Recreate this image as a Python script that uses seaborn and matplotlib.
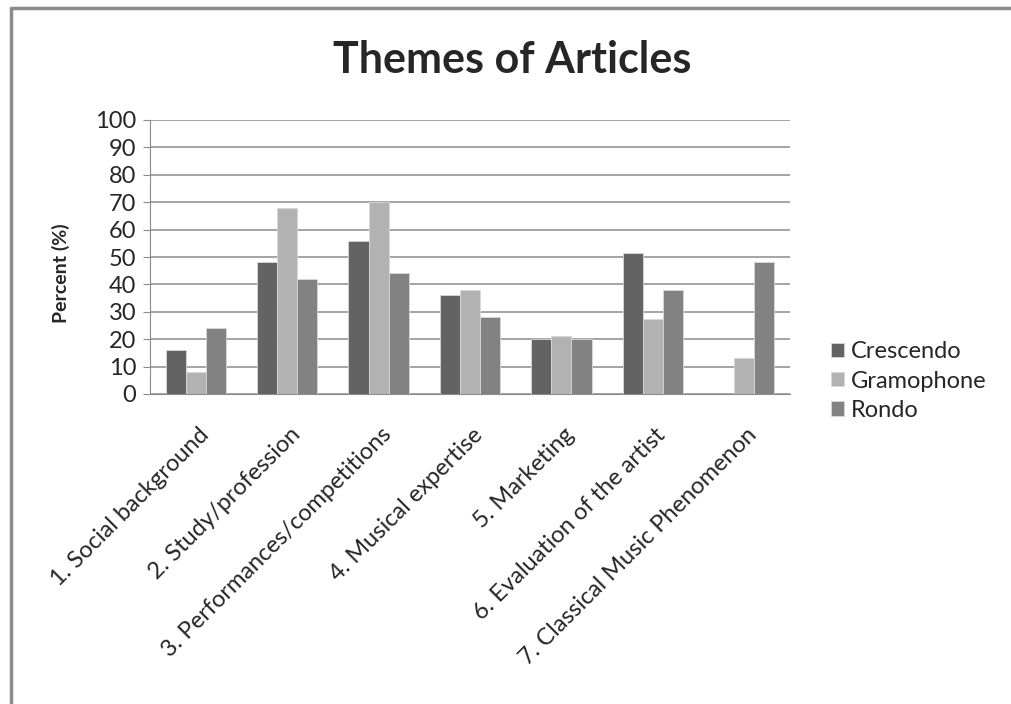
import pandas as pd
import matplotlib.pyplot as plt
import matplotlib.lines as mlines
import matplotlib.transforms as mtransforms
import seaborn as sns

# --- data ---
themes = [
    "1. Social background",
    "2. Study/profession",
    "3. Performances/competitions",
    "4. Musical expertise",
    "5. Marketing",
    "6. Evaluation of the artist",
    "7. Classical Music Phenomenon",
]
magazines = ["Crescendo", "Gramophone", "Rondo"]
crescendo = [16, 48, 56, 36, 20, 51.5, 0]
gramophone = [8, 68, 70, 38, 21, 27.5, 13]
rondo = [24, 42, 44, 28, 20, 38, 48]

df = pd.DataFrame({
    "theme": themes * 3,
    "magazine": [m for m in magazines for _ in themes],
    "percent": crescendo + gramophone + rondo,
})

sns.set_style("white")
plt.rcParams["font.family"] = ["Lato", "DejaVu Sans"]

fig = plt.figure(figsize=(10.11, 7.04), dpi=100)
ax = fig.add_axes([150 / 1011, 1 - 394 / 704, 640 / 1011, 274 / 704])

palette = {"Crescendo": "#636363", "Gramophone": "#b2b2b2", "Rondo": "#828282"}
sns.barplot(data=df, x="theme", y="percent", hue="magazine", order=themes,
            hue_order=magazines, palette=palette, width=0.66, ax=ax,
            saturation=1, edgecolor="#d8d8d8", linewidth=0.6, zorder=3)

ax.set_ylim(0, 100)
ax.set_yticks(range(0, 101, 10))
ax.set_xlim(-0.5, 6.5)
ax.yaxis.grid(True, color="#8c8c8c", linewidth=1.1, zorder=0)
ax.set_axisbelow(True)
for s in ["top", "right"]:
    ax.spines[s].set_visible(False)
ax.spines["left"].set_color("#8c8c8c")
ax.spines["bottom"].set_color("#8c8c8c")
ax.tick_params(axis="y", length=5, color="#8c8c8c", labelsize=17, pad=5, left=True)
ax.tick_params(axis="x", length=0, labelsize=17, pad=0)

# Excel-like placement of the slanted category labels
shift = mtransforms.ScaledTranslation(2 / 100, -30 / 100, fig.dpi_scale_trans)
for lab in ax.get_xticklabels():
    lab.set_rotation(45)
    lab.set_ha("right")
    lab.set_rotation_mode("anchor")
    lab.set_transform(lab.get_transform() + shift)

ax.set_xlabel("")
ax.set_ylabel("Percent (%)", fontsize=14, fontweight="bold", labelpad=18)
ax.yaxis.set_label_coords(-0.125, 0.44)

fig.text(512 / 1011, 1 - 60 / 704, "Themes of Articles", fontsize=31,
         fontweight="bold", ha="center", va="center")

leg = ax.legend(loc="center left", bbox_to_anchor=(1.031, 0.047), frameon=False,
                fontsize=17, handlelength=0.55, handleheight=0.55,
                handletextpad=0.3, labelspacing=0.35)

# window border (top and left)
fig.add_artist(mlines.Line2D([11 / 1011, 1], [1 - 8 / 704, 1 - 8 / 704],
                             color="#8c8c8c", linewidth=2.5, transform=fig.transFigure))
fig.add_artist(mlines.Line2D([11 / 1011, 11 / 1011], [0, 1 - 8 / 704],
                             color="#8c8c8c", linewidth=2.5, transform=fig.transFigure))

fig.savefig("out.png", dpi=100)
